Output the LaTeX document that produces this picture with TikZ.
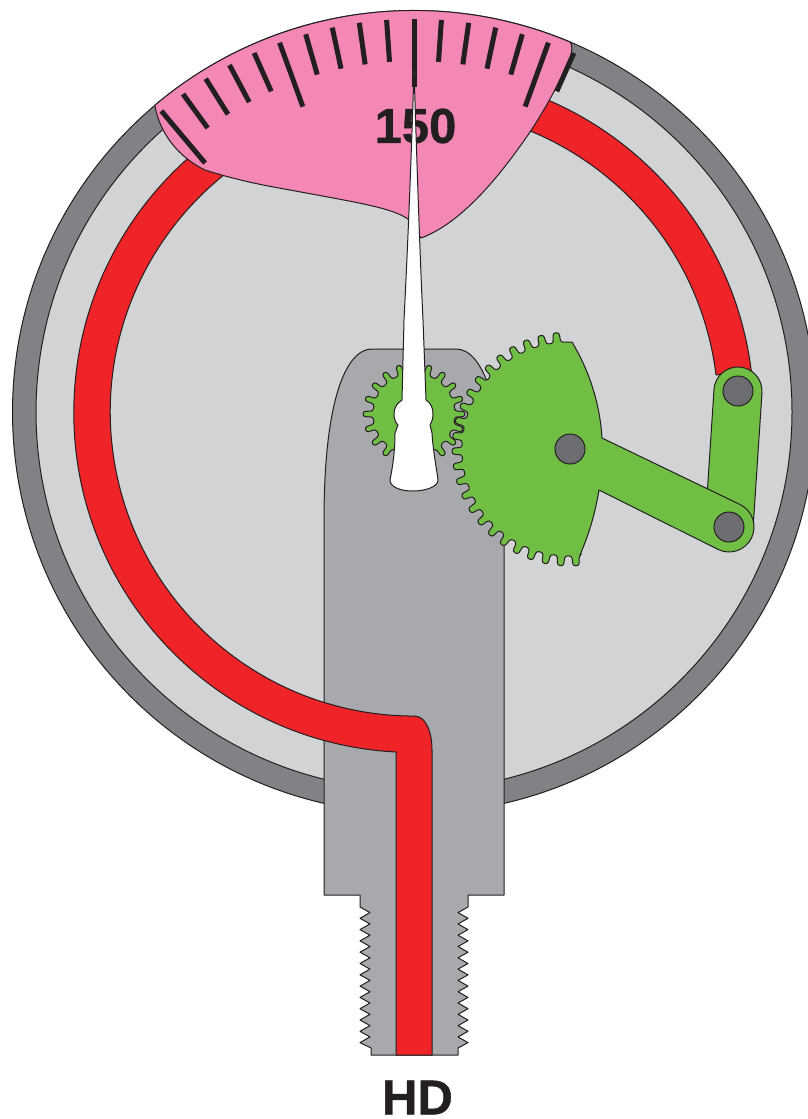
\documentclass[tikz,border=0pt]{standalone}
\usepackage{fontspec}
\setmainfont{Liberation Sans}[BoldFeatures={FakeBold=0.8}]
\usepackage{xcolor}
\usepackage{tikz}
\definecolor{ringgray}{HTML}{808285}
\definecolor{facegray}{HTML}{D1D3D4}
\definecolor{stemgray}{HTML}{A7A9AC}
\definecolor{pingray}{HTML}{6D6E71}
\definecolor{tubered}{HTML}{EE2429}
\definecolor{geargreen}{HTML}{70BF44}
\definecolor{scalepink}{HTML}{F387B6}
\definecolor{inkblack}{HTML}{231F20}
\tikzset{
  part/.style={draw=inkblack, line width=1pt, line join=round},
  ring/.style={part, fill=ringgray},
  face/.style={part, fill=facegray},
  stem/.style={part, fill=stemgray},
  tube/.style={part, fill=tubered},
  gear/.style={part, fill=geargreen},
  dial/.style={part, fill=scalepink},
  needle/.style={part, fill=white},
  pin/.style={circle, part, fill=pingray, minimum size=30pt, inner sep=0pt},
  tick/.style={draw=inkblack, line width=5pt},
  lbl/.style={font=\bfseries\fontsize{49}{49}\selectfont, text=inkblack, inner sep=0pt},
}
\begin{document}
\begin{tikzpicture}[x=1pt, y=-1pt]
\useasboundingbox (0,0) rectangle (808,1119);
\clip (0,0) rectangle (808,1119);
% case
\draw[ring] (414,412) circle[radius=401.5];
\draw[face] (414,412) circle[radius=378];
% stem with thread
\draw[stem] (372,349) -- (456,349) .. controls (482,349) and (504,400) .. (504,520)
  -- (504,895) -- (468,895) -- (468,907)
  \foreach \i in {0,...,11} { -- (458,{912.6+11.3*\i}) -- (468,{918.3+11.3*\i}) }
  -- (458,1048) -- (458,1055) -- (371,1055) -- (371,1048) -- (360,1042.6)
  \foreach \i in {11,...,0} { -- (370,{912.6+11.3*\i}) -- (360,{907+11.3*\i}) }
  -- (360,895) -- (324,895) -- (324,520) .. controls (324,400) and (346,349) .. (372,349) -- cycle;
% bourdon tube
\draw[tube] (396,1055) -- (396,752) arc[start angle=93, end angle=353, radius=340]
  -- (716,375) arc[start angle=353, end angle=90, radius=304]
  .. controls (426,716) and (432,732) .. (432,750) -- (432,1055) -- cycle;
% pinion
\begin{scope}[shift={(414,414)}]
  \draw[gear] (-9:41) [rounded corners=2.5pt]
    \foreach \a in {0,18,...,342} { -- (\a-4:41) -- (\a-3:51) -- (\a+3:51) -- (\a+4:41) } -- cycle;
\end{scope}
% link
\draw[gear] (762,392.6) -- (753,528.6) arc[start angle=3.8, end angle=183.8, radius=24]
  -- (714,389.4) arc[start angle=183.8, end angle=363.8, radius=24] -- cycle;
% sector with arm
\begin{scope}[shift={(569,449)}]
  \draw[gear] (11,106) [rounded corners=2.5pt]
    \foreach \a in {86.5,94.2,...,264} { -- (\a-2:107) -- (\a-1.5:117) -- (\a+1.5:117) -- (\a+2:107) }
    [sharp corners] -- (3,-107) .. controls (21,-77) and (31,-44) .. (33,-11)
    -- (171,55.5) arc[start angle=-64, end angle=116, radius=25]
    -- (30,41) .. controls (26,65) and (20,85) .. (11,106) -- cycle;
\end{scope}
\node[pin] (sectorpin) at (570,449) {};
\node[pin] (armpin) at (729,527) {};
\node[pin] (tubepin) at (738,391) {};
% scale
\draw[dial] (154.8,105.3) arc[start angle=229.8, end angle=292.9, radius=401.5]
  .. controls (572,44) and (573,50) .. (570,58)
  .. controls (562,78) and (545,110) .. (528,135)
  .. controls (505,168) and (465,222) .. (421,238) -- (408,219)
  .. controls (392,208) and (360,203) .. (290,190)
  .. controls (255,184) and (230,178) .. (205,170)
  .. controls (180,158) and (160,135) .. (154.8,105.3) -- cycle;
\begin{scope}[shift={(414,412)}]
  \foreach \a in {-40,-36,...,24} {
    \pgfmathsetmacro{\rin}{mod(\a,20)==0 ? 325 : 351}
    \draw[tick] (270+\a:393) -- (270+\a:\rin);
  }
\end{scope}
\node[lbl] (value) at (415.5,126) {150};
% pointer
\draw[needle] (414,70) .. controls (418,200) and (421,280) .. (423,320) -- (426,400)
  .. controls (431,403) and (433,408) .. (433,414) .. controls (433,420) and (431,423) .. (430,425)
  -- (432,433) .. controls (433,450) and (436,465) .. (438,480)
  .. controls (438,487) and (425,491) .. (413,491) .. controls (400,491) and (390,487) .. (390,480)
  .. controls (393,465) and (395,450) .. (395,433) -- (398,425)
  .. controls (396,423) and (394,420) .. (394,414) .. controls (394,408) and (397,403) .. (402,400)
  -- (404,320) .. controls (406,280) and (410,200) .. (414,70) -- cycle;
\node[lbl] (title) at (417.5,1097.5) {HD};
\end{tikzpicture}
\end{document}
